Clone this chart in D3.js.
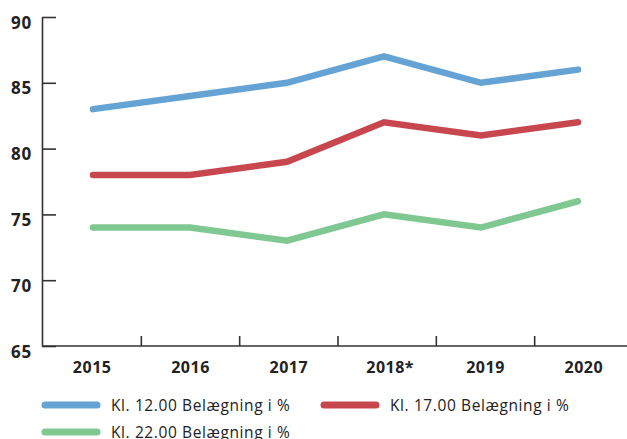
<!DOCTYPE html>
<html><head><meta charset="utf-8">
<script src="https://cdn.jsdelivr.net/npm/d3@7"></script>
<style>
body{margin:0;background:#fff;}
svg{display:block;font-family:"Open Sans",sans-serif;}
</style></head><body>
<svg id="c" width="627" height="439"></svg>
<script>
const years = ["2015","2016","2017","2018*","2019","2020"];
const kl12 = [83,84,85,87,85,86];
const kl17 = [78,78,79,82,81,82];
const kl22 = [74,74,73,75,74,76];
const yTicks = [65,70,75,80,85,90];
const seriesNames = ["Kl. 12.00 Belægning i %","Kl. 17.00 Belægning i %","Kl. 22.00 Belægning i %"];
const colors = ["#65a3d4","#c8474e","#7fc892"];

const svg = d3.select("#c");
const axisColor = "#333";

const y = d3.scaleLinear().domain([65,90]).range([346,17]);
const xb = d3.scaleBand().domain(years).range([43,633]).padding(0);
const xp = d3.scalePoint().domain(years).range([93,578]);

// y axis
const ya = svg.append("g").attr("transform","translate(42,0)")
  .call(d3.axisLeft(y).tickValues(yTicks).tickSizeInner(-14).tickSizeOuter(0).tickPadding(10).tickFormat(d3.format("d")));
ya.select(".domain").attr("stroke",axisColor).attr("stroke-width",1.6);
ya.selectAll(".tick line").attr("stroke",axisColor).attr("stroke-width",1.6);
ya.selectAll(".tick text").attr("fill","#222").attr("font-size",17).attr("font-weight",700)
  .attr("font-family","'Open Sans',sans-serif").attr("letter-spacing","0.8px").attr("dy","0.65em");

// x axis
const xg = svg.append("g");
xg.append("line").attr("x1",42).attr("x2",627).attr("y1",y(65)).attr("y2",y(65))
  .attr("stroke",axisColor).attr("stroke-width",1.6);
xg.selectAll("line.tk").data(years.slice(0,-1)).join("line").attr("class","tk")
  .attr("x1",d=>xb(d)+xb.bandwidth()).attr("x2",d=>xb(d)+xb.bandwidth())
  .attr("y1",y(65)).attr("y2",y(65)-10).attr("stroke",axisColor).attr("stroke-width",1.6);
xg.selectAll("text").data(years).join("text")
  .attr("x",d=>xb(d)+xb.bandwidth()/2 + (d.endsWith("*")?3:0)).attr("y",373)
  .attr("text-anchor","middle").attr("font-size",16).attr("font-weight",700).attr("fill","#222")
  .attr("letter-spacing","0.5px")
  .text(d=>d);

// lines
const series = [kl12,kl17,kl22];
const line = d3.line().x((d,i)=>xp(years[i])).y(d=>y(d));
svg.selectAll("path.s").data(series).join("path").attr("class","s")
  .attr("d",line).attr("fill","none").attr("stroke",(d,i)=>colors[i])
  .attr("stroke-width",6.5).attr("stroke-linecap","round").attr("stroke-linejoin","miter");

// legend
const leg = [{x:42,y:405},{x:321,y:405},{x:42,y:432}];
const lg = svg.selectAll("g.leg").data(seriesNames).join("g").attr("class","leg")
  .attr("transform",(d,i)=>`translate(${leg[i].x},${leg[i].y})`);
lg.append("line").attr("x1",3).attr("x2",55).attr("stroke",(d,i)=>colors[i])
  .attr("stroke-width",7).attr("stroke-linecap","round");
lg.append("text").attr("x",69).attr("y",5.5).attr("font-size",15.5).attr("letter-spacing","0.6px")
  .attr("fill","#222").text(d=>d);
</script></body></html>
